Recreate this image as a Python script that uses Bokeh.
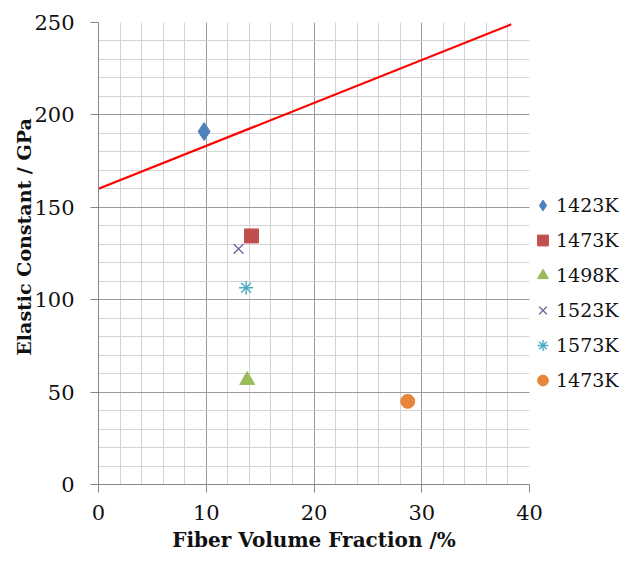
from bokeh.plotting import figure
from bokeh.models import SingleIntervalTicker, Legend, LegendItem, Range1d
from bokeh.embed import file_html
from bokeh.resources import INLINE

# Data
series_labels = ["1423K", "1473K", "1498K", "1523K", "1573K", "1473K"]
series_x = [9.8, 14.2, 13.8, 13.0, 13.7, 28.7]
series_y = [191, 134.5, 56.5, 127.5, 106.5, 45]
markers = ["diamond", "square", "triangle", "x", "asterisk", "circle"]
colors = ["#4F81BD", "#C0504D", "#9BBB59", "#8064A2", "#4BACC6", "#E8843C"]
sizes = [18, 14, 15, 14, 14, 14]

line_x = [0, 38.3]
line_y = [160, 249]

FONT = "DejaVu Serif"

p = figure(frame_width=431, frame_height=462, output_backend="svg", toolbar_location=None,
           x_range=Range1d(0, 40), y_range=Range1d(0, 250),
           min_border_left=98, min_border_right=100, min_border_top=22, min_border_bottom=79)
p.outline_line_color = None
p.background_fill_color = "white"

p.line(line_x, line_y, line_color="#FF0000", line_width=2.2)

items = []
for lab, xx, yy, m, c, s in zip(series_labels, series_x, series_y, markers, colors, sizes):
    if m in ("x", "asterisk"):
        r = p.scatter([xx], [yy], marker=m, size=s, line_color=c, line_width=1.4, fill_color=None)
    else:
        r = p.scatter([xx], [yy], marker=m, size=s, line_color=c, fill_color=c)
    items.append(LegendItem(label=lab, renderers=[r]))

legend = Legend(items=items, location="top_left", border_line_color=None,
                background_fill_alpha=0, label_text_font=FONT, label_text_font_size="19px",
                label_text_color="#111111",
                title=" ", title_text_font_size="19px", title_standoff=146,
                spacing=5, glyph_width=27, glyph_height=30, label_standoff=0, padding=0, margin=0)
p.add_layout(legend, "right")

p.xaxis.ticker = SingleIntervalTicker(interval=10, num_minor_ticks=5)
p.yaxis.ticker = SingleIntervalTicker(interval=50, num_minor_ticks=5)

for ax in (p.xaxis, p.yaxis):
    ax.axis_line_color = "#888888"
    ax.major_tick_line_color = "#888888"
    ax.major_tick_out = 8
    ax.major_tick_in = 0
    ax.minor_tick_line_color = None
    ax.major_label_text_font = FONT
    ax.major_label_text_font_size = "21px"
    ax.major_label_text_color = "#111111"
    ax.axis_label_text_font = FONT
    ax.axis_label_text_font_style = "bold"
    ax.axis_label_text_color = "#111111"

p.xaxis.axis_label_text_font_size = "20px"
p.yaxis.axis_label_text_font_size = "19px"
p.xaxis.axis_label = "Fiber Volume Fraction /%"
p.yaxis.axis_label = "\u00a0\u00a0\u00a0\u00a0\u00a0Elastic Constant / GPa"
p.xaxis.major_label_standoff = 12
p.yaxis.major_label_standoff = 16
p.xaxis.axis_label_standoff = 5
p.yaxis.axis_label_standoff = -4

p.xgrid.grid_line_color = "#9a9a9a"
p.ygrid.grid_line_color = "#9a9a9a"
p.xgrid.minor_grid_line_color = "#d4d4d4"
p.ygrid.minor_grid_line_color = "#d4d4d4"

open("out.html", "w").write(file_html(p, INLINE))
